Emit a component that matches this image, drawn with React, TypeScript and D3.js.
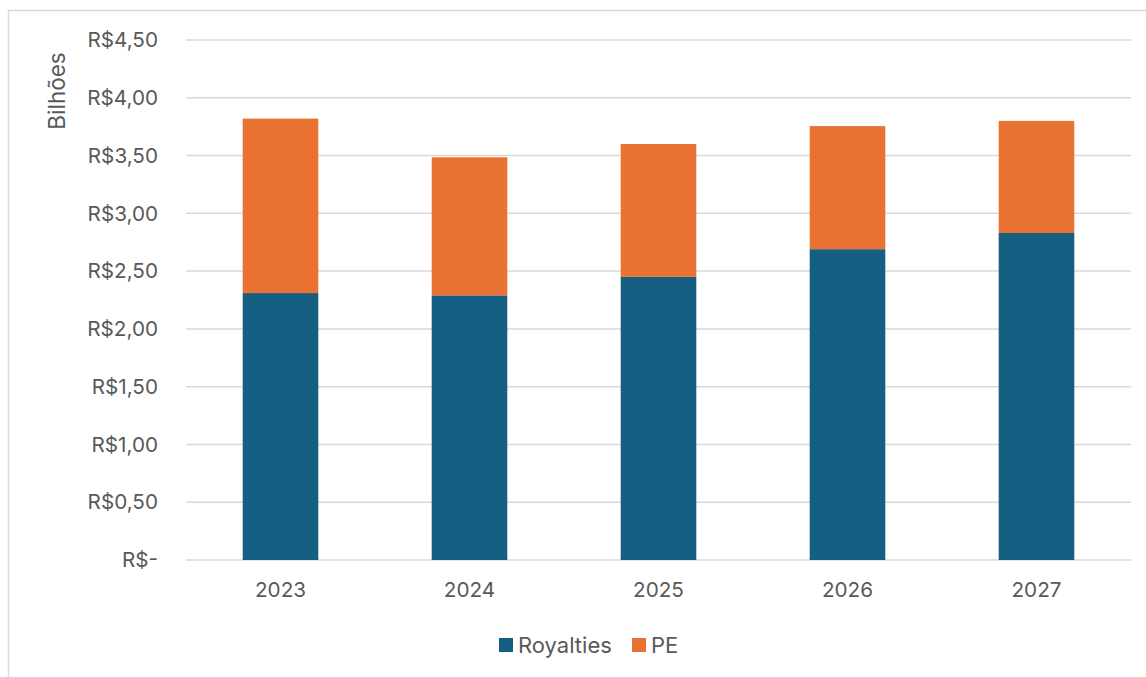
import React from "react";
import * as d3 from "d3";

const years = ["2023", "2024", "2025", "2026", "2027"];
const royalties = [2.31, 2.29, 2.45, 2.69, 2.83];
const pe = [1.51, 1.195, 1.15, 1.065, 0.97];
const yTicks = [0, 0.5, 1, 1.5, 2, 2.5, 3, 3.5, 4, 4.5];
const seriesNames = ["Royalties", "PE"];
const colors = ["#156082", "#e97132"];

const W = 1146;
const H = 677;
const font = "Inter, 'Open Sans', sans-serif";
const textColor = "#595959";

const fmt = (v: number) =>
  v === 0 ? "R$-" : "R$" + v.toFixed(2).replace(".", ",");

const App = () => {
  const x = d3.scaleBand().domain(years).range([186, 1131]).paddingInner(0.6).paddingOuter(0.3);
  const y = d3.scaleLinear().domain([0, 4.5]).range([560, 40]);

  const rows = years.map((yr, i) => ({ year: yr, Royalties: royalties[i], PE: pe[i] }));
  const stacked = d3.stack<any>().keys(seriesNames)(rows);

  return (
    <svg width={W} height={H} style={{ position: "absolute", left: 0, top: 0, background: "#fff" }}>
      <rect x={8.5} y={10.5} width={W} height={H} fill="#fff" stroke="#d9d9d9" strokeWidth={1.5} />
      {yTicks.map((t) => (
        <g key={t}>
          <line x1={186} x2={1131} y1={y(t)} y2={y(t)} stroke="#d9d9d9" strokeWidth={1.5} />
          <text x={158} y={y(t)} dy="0.35em" textAnchor="end" fontFamily={font} fontSize={20.7} fill={textColor}>
            {fmt(t)}
          </text>
        </g>
      ))}
      <text
        transform={`translate(65,91) rotate(-90)`}
        textAnchor="middle"
        fontFamily={font}
        fontSize={22.5}
        fill={textColor}
      >
        Bilhões
      </text>
      {stacked.map((s, si) => (
        <g key={s.key} fill={colors[si]}>
          {s.map((d, i) => (
            <rect
              key={i}
              x={x(years[i])}
              y={y(d[1])}
              width={x.bandwidth()}
              height={y(d[0]) - y(d[1])}
            />
          ))}
        </g>
      ))}
      {years.map((yr) => (
        <text
          key={yr}
          x={(x(yr) as number) + x.bandwidth() / 2}
          y={590}
          dy="0.35em"
          textAnchor="middle"
          fontFamily={font}
          fontSize={20.7}
          fill={textColor}
        >
          {yr}
        </text>
      ))}
      <g fontFamily={font} fontSize={22} fill={textColor}>
        <rect x={499} y={638} width={14} height={14} fill={colors[0]} />
        <text x={518} y={645} dy="0.35em">{seriesNames[0]}</text>
        <rect x={632} y={638} width={14} height={14} fill={colors[1]} />
        <text x={651} y={645} dy="0.35em">{seriesNames[1]}</text>
      </g>
    </svg>
  );
};

export default App;
